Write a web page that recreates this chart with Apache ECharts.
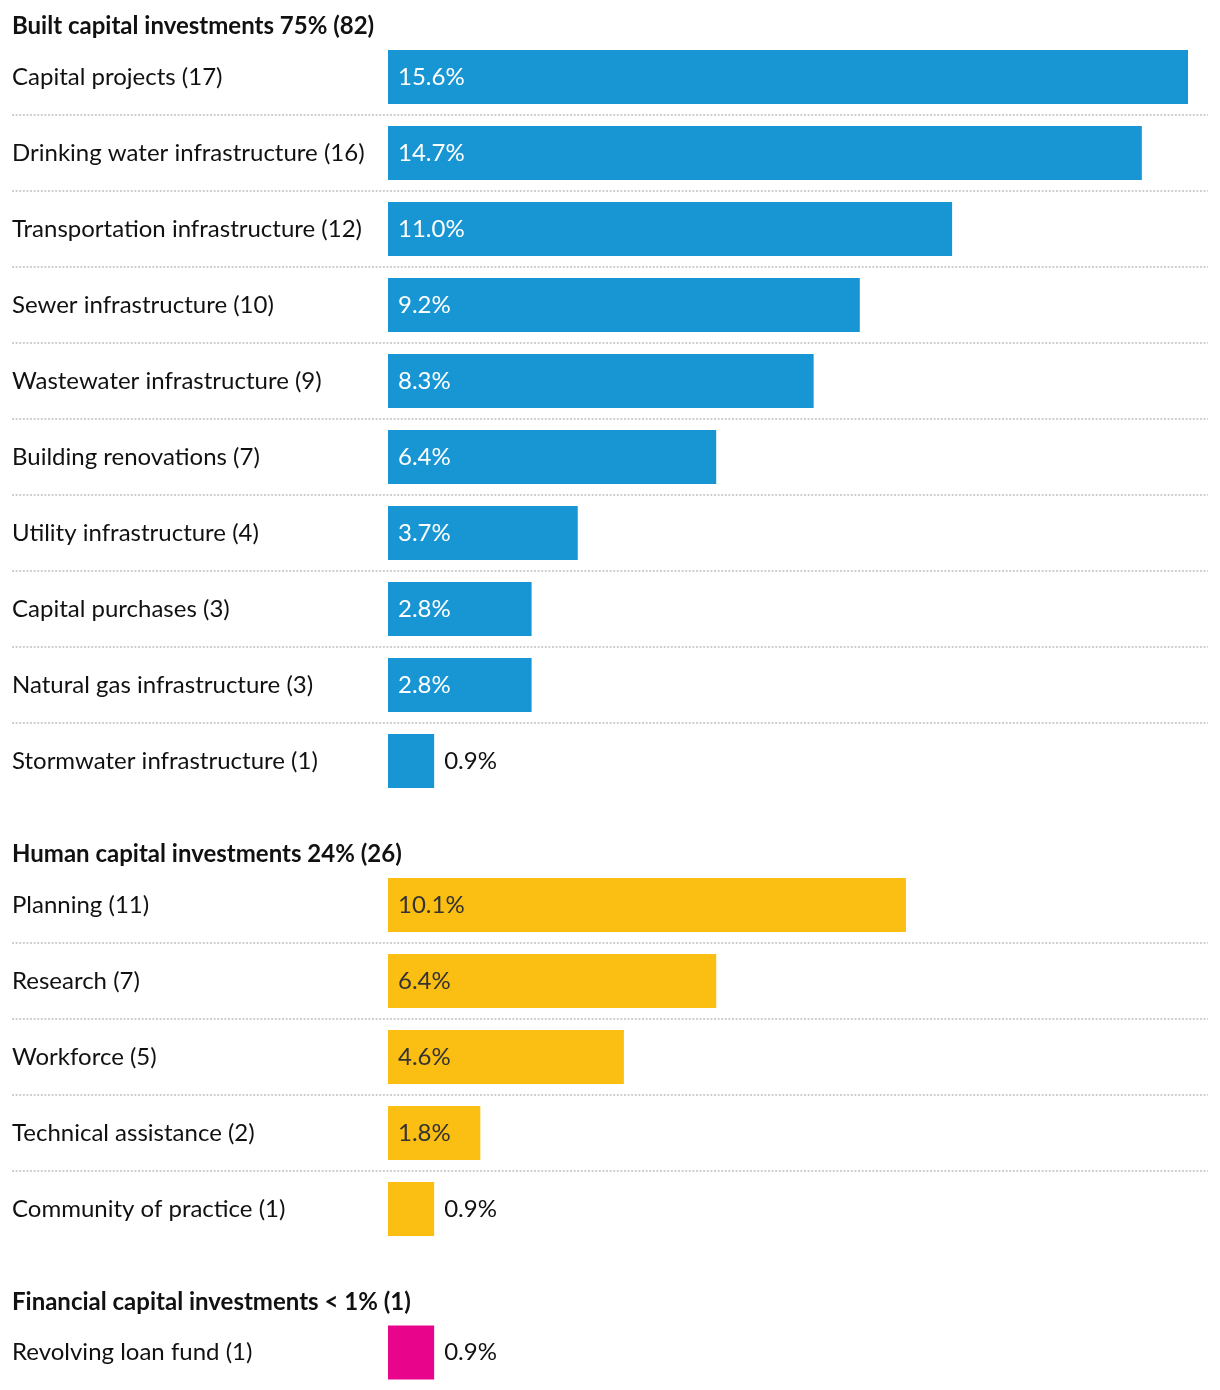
<!DOCTYPE html>
<html>
<head>
<meta charset="utf-8">
<script src="https://cdn.jsdelivr.net/npm/echarts@6/dist/echarts.min.js"></script>
<style>
html,body{margin:0;padding:0;background:#fff;}
#chart{width:1220px;height:1390px;}
</style>
</head>
<body>
<div id="chart"></div>
<script>
// ---- Data ----
const groupTitles = [
  'Built capital investments 75% (82)',
  'Human capital investments 24% (26)',
  'Financial capital investments < 1% (1)'
];
const builtCategories = [
  'Capital projects (17)',
  'Drinking water infrastructure (16)',
  'Transportation infrastructure (12)',
  'Sewer infrastructure (10)',
  'Wastewater infrastructure (9)',
  'Building renovations (7)',
  'Utility infrastructure (4)',
  'Capital purchases (3)',
  'Natural gas infrastructure (3)',
  'Stormwater infrastructure (1)'
];
const builtValues = [15.6, 14.7, 11.0, 9.2, 8.3, 6.4, 3.7, 2.8, 2.8, 0.9];
const humanCategories = [
  'Planning (11)',
  'Research (7)',
  'Workforce (5)',
  'Technical assistance (2)',
  'Community of practice (1)'
];
const humanValues = [10.1, 6.4, 4.6, 1.8, 0.9];
const financialCategories = ['Revolving loan fund (1)'];
const financialValues = [0.9];

// ---- Layout / style ----
const FONT = 'Lato, "Noto Sans", sans-serif';
const ROW = 76;
const groups = [
  {cats: builtCategories, vals: builtValues, color: '#1896d3', inText: '#ffffff', top: 39, titleTop: 14},
  {cats: humanCategories, vals: humanValues, color: '#fbbe12', inText: '#333333', top: 867, titleTop: 842},
  {cats: financialCategories, vals: financialValues, color: '#e8058b', inText: '#ffffff', top: 1315, titleTop: 1290}
];
const maxVal = Math.max(...builtValues, ...humanValues, ...financialValues);

const title = [], grid = [], xAxis = [], yAxis = [], series = [];
groups.forEach((g, i) => {
  const h = g.cats.length * ROW;
  title.push({
    text: groupTitles[i], left: 12, top: g.titleTop, padding: 0,
    textStyle: {fontFamily: FONT, fontSize: 24, fontWeight: 'bold', color: '#111'}
  });
  grid.push({left: 388, right: 32, top: g.top, height: h, containLabel: false});
  grid.push({left: 12, right: 12, top: g.top, height: h, containLabel: false});
  const gb = i * 2, gs = i * 2 + 1;
  xAxis.push({type: 'value', gridIndex: gb, min: 0, max: maxVal, show: false});
  xAxis.push({type: 'value', gridIndex: gs, min: 0, max: 1, show: false});
  yAxis.push({
    type: 'category', gridIndex: gb, data: g.cats, inverse: true,
    axisLine: {show: false}, axisTick: {show: false}, splitLine: {show: false},
    axisLabel: {align: 'left', margin: 376, fontFamily: FONT, fontSize: 24, color: '#111',
      padding: [0, 0, 2, 0]}
  });
  yAxis.push({
    type: 'value', gridIndex: gs, min: 0, max: g.cats.length, interval: 1,
    axisLine: {show: false}, axisTick: {show: false}, axisLabel: {show: false},
    splitLine: {show: true, showMinLine: false, showMaxLine: false,
      lineStyle: {color: '#cfcfcf', width: 2, type: [2, 1.6]}}
  });
  series.push({
    type: 'bar', xAxisIndex: gb, yAxisIndex: gb, barWidth: 54, silent: true,
    itemStyle: {color: g.color},
    data: g.vals.map(v => ({
      value: v,
      label: v < 1
        ? {show: true, position: 'right', distance: 10, color: '#111'}
        : {show: true, position: 'insideLeft', distance: 10, color: g.inText}
    })),
    label: {show: true, fontFamily: FONT, fontSize: 24, formatter: p => p.value.toFixed(1) + '%',
      padding: [2, 0, 0, 0]}
  });
});

const chart = echarts.init(document.getElementById('chart'), null, {renderer: 'canvas'});
chart.setOption({
  animation: false,
  backgroundColor: '#ffffff',
  title, grid, xAxis, yAxis, series
});
</script>
</body>
</html>
